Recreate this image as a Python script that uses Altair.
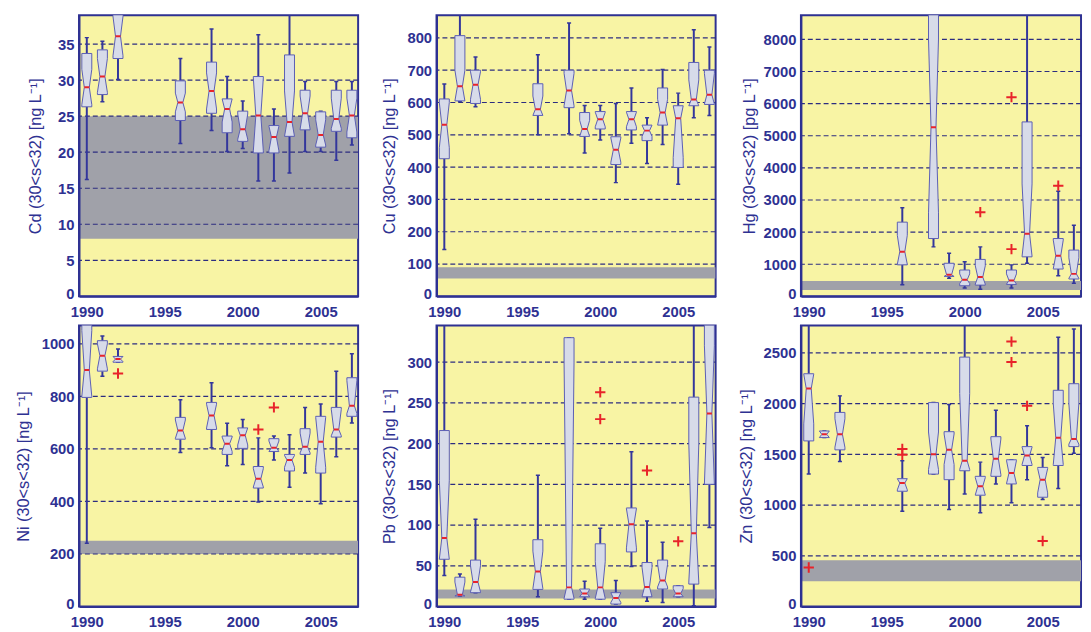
import altair as alt
import pandas as pd

# ---------------- data ----------------
YEARS14 = [1990, 1991, 1992, 1996, 1998, 1999, 2000, 2001, 2002, 2003, 2004, 2005, 2006, 2007]

# Cd [ng/L]
CD_LOW = [16.2, 27.0, 30.1, 21.2, 23.0, 20.1, 20.5, 16.0, 16.0, 17.1, 20.1, 20.1, 18.9, 21.0]
CD_Q1 = [26.3, 28.0, 33.0, 24.4, 25.4, 22.7, 21.5, 19.9, 19.9, 22.6, 23.1, 20.7, 22.9, 22.0]
CD_NLO = [26.6, 28.3, 33.4, 25.6, 26.0, 24.2, 21.8, 20.2, 20.2, 22.2, 23.2, 21.0, 23.3, 22.8]
CD_MED = [29.0, 30.5, 36.1, 26.9, 28.5, 26.0, 23.2, 25.1, 22.1, 24.2, 25.4, 22.4, 24.6, 25.1]
CD_NHI = [31.5, 33.0, 38.8, 28.2, 31.0, 27.4, 25.3, 30.3, 23.6, 28.5, 27.8, 24.5, 27.5, 27.5]
CD_Q3 = [33.7, 34.2, 41.0, 29.9, 32.5, 27.4, 25.7, 30.5, 23.7, 33.5, 28.6, 25.6, 28.6, 28.6]
CD_HIGH = [35.9, 35.4, 45.0, 33.0, 37.1, 30.5, 27.1, 36.3, 26.0, 42.0, 29.8, 25.7, 29.8, 29.8]
CD_OUT_YEAR = []
CD_OUT_VAL = []

# Cu [ng/L]
CU_LOW = [145, 604, 587, 500, 503, 444, 484, 352, 474, 411, 470, 347, 553, 560]
CU_Q1 = [426, 622, 597, 563, 584, 500, 518, 408, 515, 482, 531, 399, 597, 594]
CU_NLO = [460, 605, 610, 560, 590, 495, 525, 415, 525, 495, 530, 430, 590, 595]
CU_MED = [531, 650, 655, 579, 637, 518, 548, 454, 548, 513, 569, 551, 609, 624]
CU_NHI = [600, 700, 695, 620, 690, 545, 570, 490, 570, 530, 610, 590, 670, 690]
CU_Q3 = [611, 807, 700, 658, 700, 569, 572, 494, 572, 528, 645, 586, 724, 700]
CU_HIGH = [657, 900, 741, 748, 846, 591, 591, 597, 645, 553, 702, 629, 825, 772]
CU_OUT_YEAR = []
CU_OUT_VAL = []

# Hg [pg/L]
HG_YEARS = [1996, 1998, 1999, 2000, 2001, 2003, 2004, 2006, 2007]
HG_LOW = [360, 1540, 565, 260, 220, 260, 1030, 640, 410]
HG_Q1 = [980, 1800, 620, 330, 350, 370, 1230, 850, 540]
HG_NLO = [1000, 2600, 620, 400, 380, 380, 1250, 860, 560]
HG_MED = [1390, 5265, 670, 515, 600, 495, 1950, 1265, 700]
HG_NHI = [1900, 8000, 950, 700, 950, 700, 3500, 1750, 1200]
HG_Q3 = [2310, 12000, 1030, 820, 1150, 820, 5430, 1800, 1440]
HG_HIGH = [2760, 15000, 1340, 1080, 1540, 980, 10000, 3270, 2210]
HG_OUT_YEAR = [2001, 2003, 2003, 2006]
HG_OUT_VAL = [2620, 6200, 1470, 3445]

# Ni [ng/L]
NI_LOW = [241, 877, 930, 586, 604, 536, 541, 398, 558, 454, 508, 391, 570, 699]
NI_Q1 = [796, 896, 930, 637, 674, 579, 602, 451, 591, 516, 579, 508, 645, 724]
NI_NLO = [800, 905, 932, 640, 680, 590, 615, 455, 590, 530, 585, 530, 650, 735]
NI_MED = [900, 955, 942, 670, 727, 620, 652, 486, 604, 558, 608, 627, 674, 764]
NI_NHI = [1050, 1000, 952, 710, 770, 645, 680, 525, 630, 575, 660, 720, 750, 860]
NI_Q3 = [1100, 1012, 952, 720, 777, 649, 679, 533, 639, 579, 677, 724, 758, 871]
NI_HIGH = [1150, 1030, 980, 787, 852, 698, 712, 642, 649, 654, 758, 771, 896, 962]
NI_OUT_YEAR = [1992, 2001, 2002]
NI_OUT_VAL = [887, 674, 758]

# Pb [ng/L]
PB_LOW = [38, 13, 17, 12, 9, 9, 9, 3, 49, 6.5, 5, 12, 1, 97]
PB_Q1 = [60, 13.5, 17, 21, 9, 12, 9, 3, 67, 13, 21.5, 12, 27.5, 152]
PB_NLO = [58, 13, 18, 22, 10, 12, 10, 5, 72, 12, 24, 12, 30, 150]
PB_MED = [84, 14.5, 30, 43, 23.5, 16, 23.5, 10.5, 101, 24, 32, 16, 90, 237]
PB_NHI = [155, 30, 50, 68, 300, 21, 55, 17, 120, 48, 52, 22, 200, 320]
PB_Q3 = [216, 36, 57, 82, 330, 21.5, 77, 17, 121, 54, 57, 25.5, 257, 400]
PB_HIGH = [400, 40, 107, 161, 330, 31, 96, 32, 190, 105, 79, 25.5, 400, 500]
PB_OUT_YEAR = [2000, 2000, 2003, 2005]
PB_OUT_VAL = [263, 230, 167, 80]

# Zn [ng/L]
ZN_LOW = [1305, 1665, 1430, 940, 1305, 956, 1110, 924, 1208, 1022, 1250, 1054, 1162, 1511]
ZN_Q1 = [1632, 1665, 1544, 1136, 1305, 1250, 1338, 1097, 1283, 1208, 1390, 1077, 1390, 1576]
ZN_NLO = [1800, 1665, 1570, 1150, 1350, 1400, 1350, 1100, 1300, 1210, 1400, 1120, 1400, 1600]
ZN_MED = [2148, 1697, 1697, 1217, 1501, 1544, 1436, 1185, 1456, 1315, 1488, 1250, 1664, 1651]
ZN_NHI = [2290, 1730, 1850, 1260, 1720, 1700, 2100, 1270, 1650, 1440, 1570, 1360, 2000, 2000]
ZN_Q3 = [2294, 1730, 1913, 1260, 2010, 1723, 2458, 1283, 1674, 1446, 1576, 1371, 2131, 2196]
ZN_HIGH = [2850, 1730, 2076, 1436, 2010, 1991, 2850, 1423, 1935, 1446, 1782, 1469, 2653, 2735]
ZN_OUT_YEAR = [1990, 1996, 1996, 2003, 2003, 2004, 2005]
ZN_OUT_VAL = [385, 1553, 1495, 2611, 2409, 1978, 646]

# reference (gray) ranges
CD_BAND = [8, 25]
CU_BAND = [55, 90]
HG_BAND = [200, 480]
NI_BAND = [200, 250]
PB_BAND = [10, 21]
ZN_BAND = [250, 455]

# y-axis ticks
CD_TICKS = [0, 5, 10, 15, 20, 25, 30, 35]
CU_TICKS = [0, 100, 200, 300, 400, 500, 600, 700, 800]
HG_TICKS = [0, 1000, 2000, 3000, 4000, 5000, 6000, 7000, 8000]
NI_TICKS = [0, 200, 400, 600, 800, 1000]
PB_TICKS = [0, 50, 100, 150, 200, 250, 300]
ZN_TICKS = [0, 500, 1000, 1500, 2000, 2500]
X_TICKS = [1990, 1995, 2000, 2005]

# ---------------- styles ----------------
YELLOW = "#F8F4A4"
GRAY = "#A0A1A9"
BOXFILL = "#D7DBE9"
BOXLINE = "#5A5DB4"
WHISK = "#33369C"
AXISC = "#2E3192"
GRIDC = "#2C2C80"
RED = "#E8232A"
PLUS = "M-1,0L1,0M0,-1L0,1"
FONT = "Liberation Sans"

BOX_HW = 0.32
NOTCH_HW = 0.16
CAP_HW = 0.13
X_MIN = 1989.5
W = 283
H = 285


def panel(title, years, low, q1, nlo, med, nhi, q3, high, oy, ov, band, ymax,
          ticks, extent, tpad, width=W, xmax=2007.4):
    xs = alt.Scale(domain=[X_MIN, xmax], nice=False, zero=False)
    ys = alt.Scale(domain=[0, ymax], nice=False, zero=False)
    xaxis = alt.Axis(values=X_TICKS, format="d", title=None, grid=False,
                     ticks=False, labelFlush=False, labelPadding=8,
                     domain=True, domainColor=AXISC, domainWidth=2, zindex=1)
    yaxis = alt.Axis(values=ticks, format="d", title=title, grid=False,
                     ticks=False, labelPadding=5, minExtent=extent,
                     maxExtent=extent, titlePadding=tpad, domain=True,
                     domainColor=AXISC, domainWidth=2, zindex=1,
                     labelOffset=alt.condition("datum.value == 0",
                                               alt.value(-3), alt.value(0)))

    def X(f):
        return alt.X(f, scale=xs, axis=xaxis, stack=None)

    def Y(f):
        return alt.Y(f, scale=ys, axis=yaxis, stack=None)

    stats = pd.DataFrame({"year": years, "low": low, "q1": q1, "nlo": nlo,
                          "med": med, "nhi": nhi, "q3": q3, "high": high})
    stats["capl"] = stats["year"] - CAP_HW
    stats["capr"] = stats["year"] + CAP_HW
    stats["ml"] = stats["year"] - NOTCH_HW
    stats["mr"] = stats["year"] + NOTCH_HW

    rows = []
    for r in stats.itertuples():
        pts = []
        if r.q1 < r.nlo:
            pts.append((r.q1, BOX_HW))
        pts.append((r.nlo, BOX_HW))
        pts.append((r.med, NOTCH_HW))
        pts.append((r.nhi, BOX_HW))
        if r.q3 > r.nhi:
            pts.append((r.q3, BOX_HW))
        for v, hw in pts:
            rows.append({"year": r.year, "v": v, "xl": r.year - hw,
                         "xr": r.year + hw})
    poly = pd.DataFrame(rows)

    band_df = pd.DataFrame({"lo": [band[0]], "hi": [band[1]]})
    band_l = alt.Chart(band_df).mark_rect(color=GRAY, clip=True).encode(
        y=Y("lo:Q"), y2="hi:Q", x=alt.value(0), x2=alt.value("width"))

    grid_df = pd.DataFrame({"t": [t for t in ticks if t > 0]})
    grid_l = alt.Chart(grid_df).mark_rule(color=GRIDC, strokeDash=[5, 3],
                                          strokeWidth=1.2).encode(y=Y("t:Q"))

    base = alt.Chart(stats)
    wh_hi = base.mark_rule(color=WHISK, strokeWidth=2, clip=True).encode(
        x=X("year:Q"), y=Y("high:Q"), y2="q3:Q")
    wh_lo = base.mark_rule(color=WHISK, strokeWidth=2, clip=True).encode(
        x=X("year:Q"), y=Y("low:Q"), y2="q1:Q")
    cap_hi = base.mark_rule(color=WHISK, strokeWidth=1.5, clip=True).encode(
        x=X("capl:Q"), x2="capr:Q", y=Y("high:Q"))
    cap_lo = base.mark_rule(color=WHISK, strokeWidth=1.5, clip=True).encode(
        x=X("capl:Q"), x2="capr:Q", y=Y("low:Q"))
    box = alt.Chart(poly).mark_area(orient="horizontal", fill=BOXFILL,
                                    stroke=BOXLINE, strokeWidth=1,
                                    opacity=1, clip=True).encode(
        y=Y("v:Q"), x=X("xl:Q"), x2="xr:Q", detail="year:N")
    med_l = base.mark_rule(color=RED, strokeWidth=2, clip=True).encode(
        x=X("ml:Q"), x2="mr:Q", y=Y("med:Q"))

    layers = [band_l, grid_l, wh_hi, wh_lo, cap_hi, cap_lo, box, med_l]
    if len(oy) > 0:
        out_df = pd.DataFrame({"year": oy, "val": ov})
        out_l = alt.Chart(out_df).mark_point(shape=PLUS, size=110, stroke=RED,
                                             strokeWidth=2, filled=False,
                                             opacity=1, clip=True).encode(
            x=X("year:Q"), y=Y("val:Q"))
        layers.append(out_l)
    return alt.layer(*layers).properties(width=width, height=H)


p_cd = panel("Cd (30<s<32) [ng L⁻¹]", YEARS14, CD_LOW, CD_Q1, CD_NLO, CD_MED,
             CD_NHI, CD_Q3, CD_HIGH, CD_OUT_YEAR, CD_OUT_VAL, CD_BAND, 39,
             CD_TICKS, 23, 13)
p_cu = panel("Cu (30<s<32) [ng L⁻¹]", YEARS14, CU_LOW, CU_Q1, CU_NLO, CU_MED,
             CU_NHI, CU_Q3, CU_HIGH, CU_OUT_YEAR, CU_OUT_VAL, CU_BAND, 870,
             CU_TICKS, 32, 8)
p_hg = panel("Hg (30<s<32) [pg L⁻¹]", HG_YEARS, HG_LOW, HG_Q1, HG_NLO, HG_MED,
             HG_NHI, HG_Q3, HG_HIGH, HG_OUT_YEAR, HG_OUT_VAL, HG_BAND, 8750,
             HG_TICKS, 41, 3, width=284, xmax=2007.46)
p_ni = panel("Ni (30<s<32) [ng L⁻¹]", YEARS14, NI_LOW, NI_Q1, NI_NLO, NI_MED,
             NI_NHI, NI_Q3, NI_HIGH, NI_OUT_YEAR, NI_OUT_VAL, NI_BAND, 1070,
             NI_TICKS, 41, 7)
p_pb = panel("Pb (30<s<32) [ng L⁻¹]", YEARS14, PB_LOW, PB_Q1, PB_NLO, PB_MED,
             PB_NHI, PB_Q3, PB_HIGH, PB_OUT_YEAR, PB_OUT_VAL, PB_BAND, 345,
             PB_TICKS, 32, 8)
p_zn = panel("Zn (30<s<32) [ng L⁻¹]", YEARS14, ZN_LOW, ZN_Q1, ZN_NLO, ZN_MED,
             ZN_NHI, ZN_Q3, ZN_HIGH, ZN_OUT_YEAR, ZN_OUT_VAL, ZN_BAND, 2770,
             ZN_TICKS, 41, 6, width=284, xmax=2007.46)

chart = alt.concat(p_cd, p_cu, p_hg, p_ni, p_pb, p_zn, columns=3,
                   spacing={"row": 4.5, "column": 20.5}).properties(
    padding={"left": 7, "top": 2, "right": 0, "bottom": 0},
    background="white",
).configure_view(
    fill=YELLOW, stroke=AXISC, strokeWidth=2
).configure_axis(
    labelFont=FONT, labelFontSize=15, labelFontWeight="bold",
    labelColor=AXISC, titleFont=FONT, titleFontSize=16.5,
    titleFontWeight="normal", titleColor=AXISC
)

chart.save("out.html", embed_options={"renderer": "svg", "actions": False})
